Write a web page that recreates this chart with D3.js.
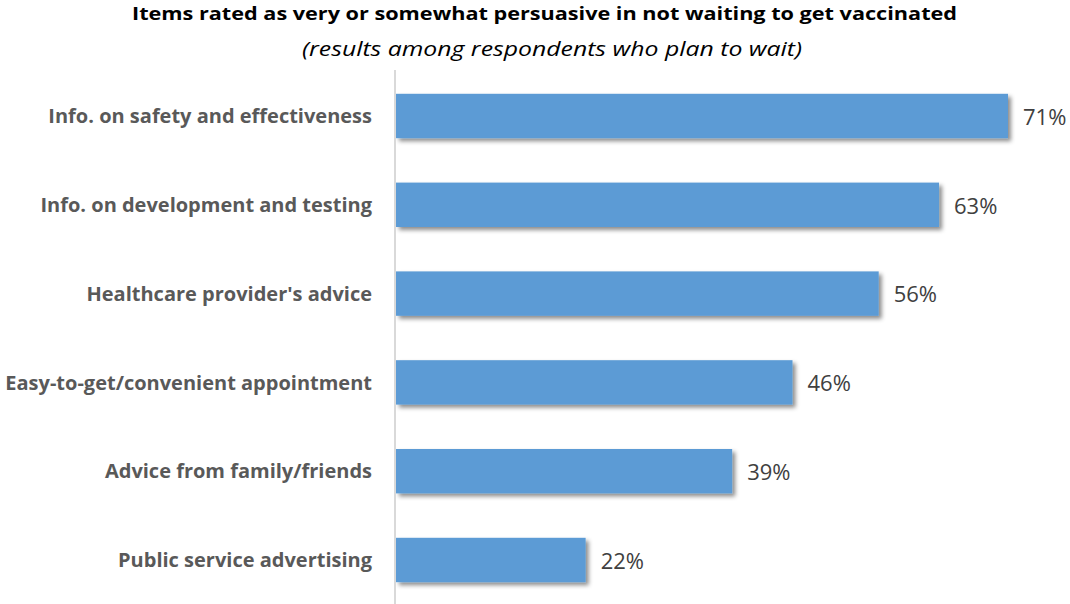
<!DOCTYPE html>
<html>
<head>
<meta charset="utf-8">
<script src="https://cdn.jsdelivr.net/npm/d3@7"></script>
<style>
  html, body { margin: 0; padding: 0; background: #fff; }
  svg { display: block; }
</style>
</head>
<body>
<svg width="1070" height="604"></svg>
<script>
var categories = [
    'Info. on safety and effectiveness',
    'Info. on development and testing',
    "Healthcare provider's advice",
    'Easy-to-get/convenient appointment',
    'Advice from family/friends',
    'Public service advertising'
];
var values = [71, 63, 56, 46, 39, 22];
var titleText = 'Items rated as very or somewhat persuasive in not waiting to get vaccinated';
var subtitleText = '(results among respondents who plan to wait)';

(function () {
    var svg = d3.select('svg');
    var font = '"Open Sans", "Liberation Sans", sans-serif';

    var data = categories.map(function (c, i) {
        return { name: c, value: values[i] };
    });

    var x = d3.scaleLinear()
        .domain([0, d3.max(values)])
        .range([396, 1008]);

    var y = d3.scaleBand()
        .domain(categories)
        .range([71.6, 604.4])
        .paddingInner(0.5)
        .paddingOuter(0.25);

    // тень под столбиками
    var defs = svg.append('defs');
    defs.append('filter')
        .attr('id', 'shadow')
        .attr('x', '-5%').attr('y', '-30%')
        .attr('width', '115%').attr('height', '170%')
        .append('feDropShadow')
        .attr('dx', 3).attr('dy', 3)
        .attr('stdDeviation', 2)
        .attr('flood-color', '#000')
        .attr('flood-opacity', 0.45);

    // заголовок
    svg.append('text')
        .attr('x', 544.5).attr('y', 20)
        .attr('text-anchor', 'middle')
        .attr('textLength', 825)
        .attr('lengthAdjust', 'spacingAndGlyphs')
        .style('font-family', font)
        .style('font-weight', 'bold')
        .style('font-size', '18.5px')
        .style('fill', '#000')
        .text(titleText);

    svg.append('text')
        .attr('x', 552).attr('y', 56)
        .attr('text-anchor', 'middle')
        .attr('textLength', 500)
        .attr('lengthAdjust', 'spacingAndGlyphs')
        .style('font-family', font)
        .style('font-style', 'italic')
        .style('font-size', '20px')
        .style('fill', '#000')
        .text(subtitleText);

    // столбики
    svg.append('g')
        .selectAll('rect')
        .data(data)
        .enter()
        .append('rect')
        .attr('x', x(0))
        .attr('y', function (d) { return y(d.name); })
        .attr('width', function (d) { return x(d.value) - x(0); })
        .attr('height', y.bandwidth())
        .attr('fill', '#5b9bd5')
        .attr('filter', 'url(#shadow)');

    // ось
    svg.append('line')
        .attr('x1', x(0) - 1).attr('x2', x(0) - 1)
        .attr('y1', 70).attr('y2', 604)
        .attr('stroke', '#d9d9d9')
        .attr('stroke-width', 2);

    // подписи значений
    svg.append('g')
        .selectAll('text')
        .data(data)
        .enter()
        .append('text')
        .attr('x', function (d) { return x(d.value) + 15; })
        .attr('y', function (d) { return y(d.name) + y.bandwidth() / 2; })
        .attr('dy', '0.4em')
        .style('font-family', font)
        .style('font-size', '22px')
        .style('fill', '#404040')
        .text(function (d) { return d.value + '%'; });

    // категории
    svg.append('g')
        .selectAll('text')
        .data(data)
        .enter()
        .append('text')
        .attr('x', 372)
        .attr('y', function (d) { return y(d.name) + y.bandwidth() / 2; })
        .attr('dy', '0.36em')
        .attr('text-anchor', 'end')
        .style('font-family', font)
        .style('font-weight', 'bold')
        .style('font-size', '20px')
        .style('fill', '#595959')
        .text(function (d) { return d.name; });
}());
</script>
</body>
</html>
